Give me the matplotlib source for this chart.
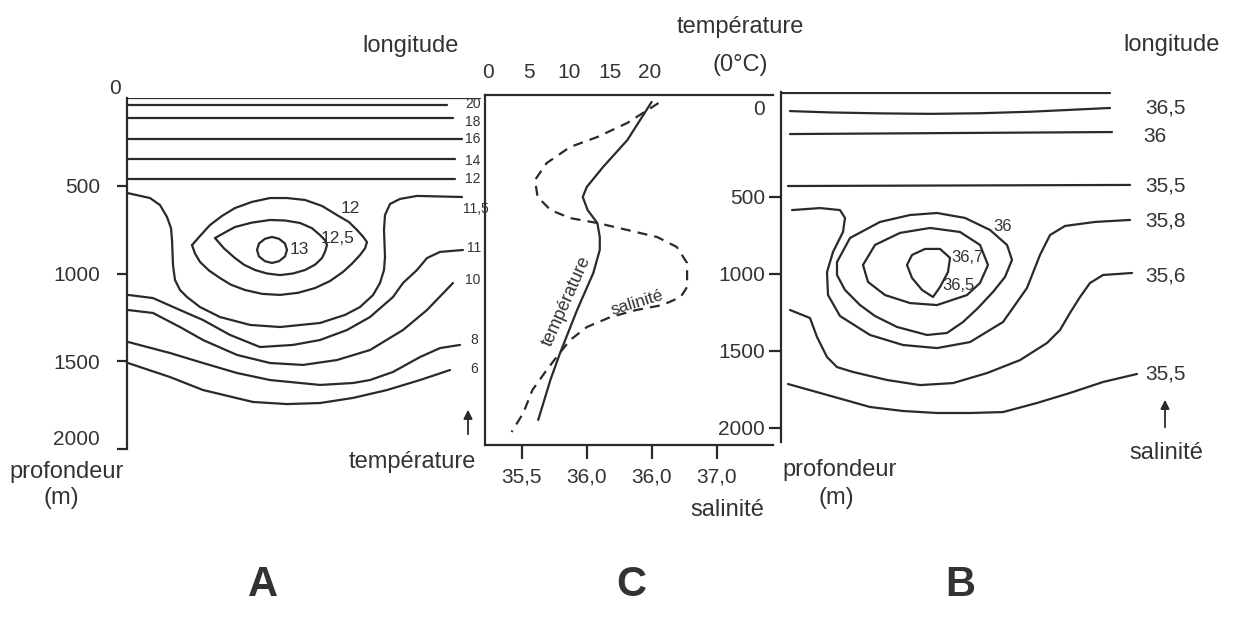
import matplotlib
matplotlib.use("Agg")
import matplotlib.pyplot as plt
from matplotlib.patches import FancyArrowPatch

plt.rcParams['font.family'] = ['Liberation Sans Narrow', 'Liberation Sans', 'DejaVu Sans']

W, H = 1235, 630
INK = '#2a2a2a'
TXT = '#333333'
LW = 1.6
FS_WORD = 17
FS_NUM = 15

# ---------------- données ----------------
# A : coupe de température (longitude en unités arbitraires, profondeur en m)
a_flat_depth = [40, 114, 234, 348, 462]          # isothermes 20, 18, 16, 14, 12
a_flat_lon_end = [320, 326, 335, 328, 328]

a115_lon = [0, 23, 33, 40, 44, 45, 46, 48, 53, 60, 73, 93, 123, 153, 193, 218, 233, 246, 253, 257, 258, 257, 258, 263, 273, 290, 335]
a115_dep = [541, 570, 610, 678, 741, 809, 952, 1037, 1094, 1134, 1191, 1248, 1293, 1305, 1282, 1236, 1191, 1123, 1054, 980, 906, 752, 667, 604, 575, 558, 564]
a11_lon = [1, 26, 53, 76, 103, 133, 166, 193, 220, 243, 266, 276, 290, 300, 313, 336]
a11_dep = [1122, 1140, 1208, 1265, 1350, 1419, 1407, 1379, 1322, 1248, 1134, 1054, 980, 912, 877, 866]
a10_lon = [1, 26, 53, 76, 110, 143, 176, 210, 243, 276, 300, 326]
a10_dep = [1208, 1225, 1305, 1379, 1464, 1510, 1521, 1493, 1436, 1322, 1208, 1054]
a8_lon = [1, 43, 76, 110, 143, 193, 226, 243, 266, 293, 313, 333]
a8_dep = [1390, 1453, 1510, 1567, 1607, 1635, 1624, 1607, 1561, 1476, 1425, 1407]
a6_lon = [1, 43, 76, 126, 160, 193, 226, 260, 293, 323]
a6_dep = [1510, 1590, 1664, 1732, 1744, 1738, 1709, 1664, 1607, 1550]
a12_lon = [65, 74, 83, 95, 108, 125, 143, 160, 178, 195, 210, 222, 230, 236, 240, 238, 233, 225, 216, 203, 188, 171, 153, 135, 118, 104, 93, 82, 73, 68, 65]
a12_dep = [838, 780, 724, 672, 627, 592, 570, 570, 581, 615, 667, 707, 752, 790, 821, 857, 895, 944, 991, 1043, 1083, 1110, 1122, 1116, 1094, 1064, 1026, 983, 934, 886, 838]
a125_lon = [88, 98, 108, 125, 143, 158, 173, 185, 193, 198, 200, 198, 195, 188, 178, 166, 153, 140, 128, 117, 108, 97, 88]
a125_dep = [798, 766, 735, 710, 695, 698, 712, 742, 781, 810, 838, 876, 912, 950, 980, 1000, 1009, 1000, 980, 950, 912, 857, 798]
a13_lon = [160, 158, 152, 145, 138, 132, 130, 132, 138, 145, 152, 158, 160]
a13_dep = [866, 903, 930, 940, 930, 903, 866, 829, 802, 792, 802, 829, 866]

a_side_labels = ['20', '18', '16', '14', '12', '11,5', '11', '10', '8', '6']
a_side_lon = [338, 338, 338, 338, 338, 336, 340, 338, 343, 343]
a_side_dep = [34, 137, 234, 359, 462, 632, 855, 1037, 1379, 1544]
a_eye_labels = ['12', '12,5', '13']
a_eye_lon = [223, 211, 172]
a_eye_dep = [627, 798, 866]

# C : profils verticaux
c_temp_val = [20.2, 17.2, 14.2, 12.2, 11.7, 12.3, 13.5, 13.8, 13.8, 13.0, 11.0, 8.9, 7.7, 6.2]
c_temp_dep = [-113, 134, 309, 438, 503, 588, 672, 763, 846, 996, 1236, 1515, 1690, 1949]
c_sal_val = [36.55, 36.31, 36.08, 35.87, 35.69, 35.60, 35.62, 35.72, 35.87, 36.08, 36.31, 36.54, 36.69,
             36.77, 36.77, 36.72, 36.58, 36.38, 36.18, 36.00, 35.87, 35.79, 35.69, 35.58, 35.51, 35.42]
c_sal_dep = [-106, 23, 114, 179, 283, 393, 503, 588, 640, 672, 717, 763, 827,
             931, 1087, 1152, 1204, 1236, 1282, 1346, 1431, 1515, 1625, 1755, 1904, 2027]
c_temp_ticks = [0, 5, 10, 15, 20]
c_sal_ticks = [35.5, 36.0, 36.5, 37.0]
c_sal_ticklabels = ['35,5', '36,0', '36,0', '37,0']

# B : coupe de salinité
b_top_lon, b_top_dep = [1, 329], [-171, -171]
b365s_lon = [9, 50, 100, 150, 200, 250, 329]
b365s_dep = [-54, -45, -39, -36, -40, -50, -74]
b36s_lon, b36s_dep = [9, 331], [95, 82]
b355s_lon, b355s_dep = [7, 349], [432, 425]
b358_lon = [11, 39, 59, 64, 62, 52, 46, 47, 59, 89, 122, 156, 189, 222, 246, 259, 269, 284, 314, 349]
b358_dep = [588, 575, 588, 639, 730, 860, 990, 1139, 1275, 1398, 1463, 1483, 1444, 1314, 1093, 879, 750, 691, 665, 652]
b36_lon = [56, 69, 99, 129, 156, 184, 209, 226, 231, 224, 212, 197, 182, 166, 146, 116, 94, 79, 64, 56, 56]
b36_dep = [925, 769, 665, 620, 607, 639, 717, 814, 911, 1022, 1119, 1223, 1314, 1385, 1398, 1346, 1275, 1204, 1106, 1009, 925]
b365_lon = [82, 94, 119, 149, 179, 199, 207, 199, 186, 156, 129, 104, 87, 82]
b365_dep = [944, 814, 736, 704, 730, 814, 944, 1061, 1139, 1204, 1191, 1139, 1054, 944]
b367_lon = [126, 131, 144, 159, 169, 167, 159, 152, 141, 131, 126]
b367_dep = [944, 879, 840, 840, 898, 990, 1087, 1152, 1106, 1028, 944]
b356_lon = [9, 29, 36, 46, 56, 72, 106, 139, 172, 206, 239, 266, 279, 289, 299, 309, 322, 351]
b356_dep = [1236, 1288, 1411, 1541, 1606, 1638, 1690, 1723, 1710, 1645, 1561, 1450, 1366, 1255, 1152, 1061, 1009, 996]
b355_lon = [7, 39, 89, 122, 156, 189, 222, 256, 289, 322, 356]
b355_dep = [1716, 1774, 1865, 1891, 1904, 1904, 1898, 1839, 1774, 1703, 1651]

b_side_labels = ['36,5', '36', '35,5', '35,8', '35,6', '35,5']
b_side_lon = [364, 362, 364, 364, 364, 364]
b_side_dep = [-74, 108, 432, 659, 1016, 1651]
b_eye_labels = ['36', '36,7', '36,5']
b_eye_lon = [222, 186, 177]
b_eye_dep = [693, 898, 1080]

depth_ticks = [0, 500, 1000, 1500, 2000]

# ---------------- mise en page (pixels de la figure) ----------------
fig = plt.figure(figsize=(W / 100, H / 100), dpi=100)


def px_axes(x0, y0, x1, y1):
    ax = fig.add_axes([x0 / W, 1 - y1 / H, (x1 - x0) / W, (y1 - y0) / H])
    ax.set_facecolor('none')
    for s in ax.spines.values():
        s.set_visible(False)
        s.set_linewidth(LW)
        s.set_color(INK)
    ax.tick_params(colors=INK, labelcolor=TXT, width=LW)
    return ax


def ftext(px, py, s, **kw):
    kw.setdefault('ha', 'center')
    kw.setdefault('va', 'center')
    kw.setdefault('color', TXT)
    fig.text(px / W, 1 - py / H, s, **kw)


def farrow(px, py0, py1):
    fig.add_artist(FancyArrowPatch((px / W, 1 - py0 / H), (px / W, 1 - py1 / H),
                                   transform=fig.transFigure, arrowstyle='-|>',
                                   mutation_scale=13, lw=1.3, color=INK))


line = dict(color=INK, lw=LW, solid_joinstyle='round', solid_capstyle='round')

# depth scale of A : 0 m at y=98 px, 5.698 m per px
A_DPX, A_Y0 = 5.698, 98
# depth scale shared by C and B : 0 m at y=119.4 px, 6.485 m per px
B_DPX, B_Y0 = 6.485, 119.4

# ---------- A ----------
ax_a = px_axes(127, 98, 490, 449)
ax_a.set_xlim(0, 363)
ax_a.set_ylim((449 - A_Y0) * A_DPX, 0)
ax_a.spines['left'].set_visible(True)
ax_a.set_xticks([])
ax_a.set_yticks(depth_ticks[1:])
ax_a.tick_params(axis='y', length=7.5, pad=12, labelsize=FS_NUM)
ax_a.get_yticklabels()[-1].set_va('bottom')

ax_a.plot([0, 353], [0, 0], **line)
for dep, end in zip(a_flat_depth, a_flat_lon_end):
    ax_a.plot([1, end], [dep, dep], **line)
for lo, de in [(a115_lon, a115_dep), (a11_lon, a11_dep), (a10_lon, a10_dep),
               (a8_lon, a8_dep), (a6_lon, a6_dep), (a12_lon, a12_dep),
               (a125_lon, a125_dep), (a13_lon, a13_dep)]:
    ax_a.plot(lo, de, **line)
for s, lo, de in zip(a_side_labels, a_side_lon, a_side_dep):
    ax_a.text(lo, de, s, ha='left', va='center', fontsize=10, color=TXT)
for s, lo, de in zip(a_eye_labels, a_eye_lon, a_eye_dep):
    ax_a.text(lo, de, s, ha='center', va='center', fontsize=12.5, color=TXT)

ftext(115, 88, '0', fontsize=FS_NUM)
ftext(411, 46, 'longitude', fontsize=FS_WORD)
ftext(67, 472, 'profondeur', fontsize=FS_WORD)
ftext(61, 498, '(m)', fontsize=FS_WORD)
farrow(468, 437, 407)
ftext(412, 462, 'température', fontsize=FS_WORD)

# ---------- C ----------
ax_c = px_axes(485, 95, 773, 445)
ax_c.set_xlim(35.5 - 37 / 130, 35.5 + 251 / 130)
ax_c.set_ylim((445 - B_Y0) * B_DPX, (95 - B_Y0) * B_DPX)
for side in ('left', 'top', 'bottom'):
    ax_c.spines[side].set_visible(True)
ax_c.set_yticks([])
ax_c.set_xticks(c_sal_ticks)
ax_c.set_xticklabels(c_sal_ticklabels)
ax_c.tick_params(axis='x', length=10, pad=6, labelsize=FS_NUM)
ax_c.plot(c_sal_val, c_sal_dep, color=INK, lw=LW, linestyle=(0, (4.5, 3.2)))
ax_c.text(36.385, 1191, 'salinité', rotation=17, ha='center', va='center',
          fontsize=12.5, color=TXT)

ax_t = ax_c.twiny()
ax_t.set_facecolor('none')
for s in ax_t.spines.values():
    s.set_visible(False)
ax_t.set_xlim(-3 / 8.1, 285 / 8.1)
ax_t.set_xticks(c_temp_ticks)
ax_t.tick_params(axis='x', length=0, pad=9, labelsize=FS_NUM, labelcolor=TXT)
ax_t.plot(c_temp_val, c_temp_dep, **line)
ax_t.text(9.75, 1178, 'température', rotation=66, ha='center', va='center',
          fontsize=13, color=TXT)

ftext(740, 27, 'température', fontsize=FS_WORD)
ftext(740, 65, '(0°C)', fontsize=FS_WORD)
ftext(727, 510, 'salinité', fontsize=FS_WORD)

# ---------- B ----------
ax_b = px_axes(781, 92, 1235, 442)
ax_b.set_xlim(0, 454)
ax_b.set_ylim((442 - B_Y0) * B_DPX, (92 - B_Y0) * B_DPX)
ax_b.spines['left'].set_visible(True)
ax_b.set_xticks([])
ax_b.set_yticks(depth_ticks)
ax_b.tick_params(axis='y', length=8.5, pad=3, labelsize=FS_NUM)
ax_b.yaxis.get_major_ticks()[0].tick1line.set_visible(False)
ax_b.get_yticklabels()[0].set_va('bottom')

for lo, de in [(b_top_lon, b_top_dep), (b365s_lon, b365s_dep), (b36s_lon, b36s_dep),
               (b355s_lon, b355s_dep), (b358_lon, b358_dep), (b36_lon, b36_dep),
               (b365_lon, b365_dep), (b367_lon, b367_dep), (b356_lon, b356_dep),
               (b355_lon, b355_dep)]:
    ax_b.plot(lo, de, **line)
for s, lo, de in zip(b_side_labels, b_side_lon, b_side_dep):
    ax_b.text(lo, de, s, ha='left', va='center', fontsize=FS_NUM, color=TXT)
for s, lo, de in zip(b_eye_labels, b_eye_lon, b_eye_dep):
    ax_b.text(lo, de, s, ha='center', va='center', fontsize=12, color=TXT)

ftext(1172, 45, 'longitude', fontsize=FS_WORD)
ftext(840, 470, 'profondeur', fontsize=FS_WORD)
ftext(836, 498, '(m)', fontsize=FS_WORD)
farrow(1165, 430, 397)
ftext(1166, 453, 'salinité', fontsize=FS_WORD)

# lettres des panneaux
ftext(263, 585, 'A', fontsize=30, fontweight='bold')
ftext(631, 585, 'C', fontsize=30, fontweight='bold')
ftext(960, 585, 'B', fontsize=30, fontweight='bold')

fig.savefig('out.png', dpi=100, facecolor='white')
